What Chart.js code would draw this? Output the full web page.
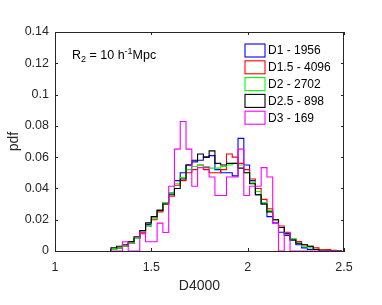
<!DOCTYPE html>
<html>
<head>
<meta charset="utf-8">
<script src="https://cdn.jsdelivr.net/npm/chart.js@4"></script>
<style>
html,body{margin:0;padding:0;background:#fff;}
#wrap{width:382px;height:305px;position:relative;}
</style>
</head>
<body>
<div id="wrap"><canvas id="c"></canvas></div>
<script>
// bin edges (D4000), width 0.03
const binEdges = [1.29,1.32,1.35,1.38,1.41,1.44,1.47,1.50,1.53,1.56,1.59,1.62,1.65,1.68,1.71,1.74,1.77,1.80,1.83,1.86,1.89,1.92,1.95,1.98,2.01,2.04,2.07,2.10,2.13,2.16,2.19,2.22,2.25,2.28,2.31,2.34,2.37,2.40,2.43,2.46,2.49];
const seriesLabels = ["D1 - 1956","D1.5 - 4096","D2 - 2702","D2.5 - 898","D3 - 169"];
const pdfD1  = [0,0.001,0.002,0.003,0.005,0.008,0.012,0.017,0.022,0.026,0.031,0.037,0.045,0.050,0.055,0.057,0.058,0.060,0.061,0.052,0.050,0.050,0.048,0.072,0.055,0.045,0.036,0.030,0.022,0.018,0.012,0.010,0.007,0.004,0.002,0.001,0.001,0,0,0];
const pdfD15 = [0.0005,0.001,0.002,0.003,0.005,0.008,0.011,0.016,0.020,0.025,0.030,0.035,0.042,0.045,0.050,0.052,0.055,0.052,0.050,0.050,0.052,0.062,0.060,0.056,0.052,0.046,0.040,0.033,0.027,0.020,0.016,0.012,0.008,0.006,0.004,0.003,0.002,0.001,0.001,0.0005];
const pdfD2  = [0,0.001,0.002,0.003,0.005,0.008,0.012,0.016,0.021,0.026,0.031,0.037,0.043,0.047,0.052,0.054,0.055,0.054,0.053,0.053,0.054,0.055,0.056,0.055,0.050,0.044,0.038,0.031,0.026,0.020,0.015,0.011,0.008,0.005,0.003,0.002,0.001,0.0005,0,0];
const pdfD25 = [0.001,0.002,0.003,0.004,0.006,0.009,0.013,0.018,0.022,0.026,0.030,0.036,0.040,0.046,0.055,0.058,0.062,0.060,0.064,0.056,0.055,0.056,0.056,0.053,0.050,0.043,0.036,0.030,0.025,0.020,0.015,0.011,0.007,0.005,0.004,0.003,0.001,0,0,0];
const pdfD3  = [0,0,0,0.0059,0,0,0.0118,0.0059,0.0059,0.0178,0.0118,0.0414,0.0651,0.0828,0.0651,0.0414,0.0533,0.0533,0.0473,0.0355,0.0355,0.0473,0.0473,0.0651,0.0355,0.0414,0.0414,0.0533,0.0473,0.0178,0,0.0118,0,0,0,0,0,0,0,0];
const colors = ["#0000ff","#ff0000","#00ff00","#000000","#ff00ff"];
const yTicks = [0,0.02,0.04,0.06,0.08,0.1,0.12,0.14];
const xTicks = [1,1.5,2,2.5];
const annotation = {base:"R", sub:"2", mid:" = 10 h", sup:"-1", tail:"Mpc"};

function stairs(vals){
  const pts = [{x:binEdges[0], y:0}];
  for (let i=0;i<vals.length;i++) pts.push({x:binEdges[i], y:vals[i]});
  pts.push({x:binEdges[binEdges.length-1], y:0});
  return pts;
}
const allSeries = [pdfD1,pdfD15,pdfD2,pdfD25,pdfD3];
const datasets = allSeries.map((v,i)=>({
  label: seriesLabels[i],
  data: stairs(v),
  borderColor: colors[i],
  backgroundColor: "#ffffff",
  borderWidth: 1.1,
  pointRadius: 0,
  stepped: 'after',
  fill: false,
  order: allSeries.length - i
}));

const FONT = "'Liberation Sans', Arial, Helvetica, sans-serif";
const AXC = "#262626";

const boxPlugin = {
  id:'boxPlugin',
  afterDraw(chart){
    const {ctx, chartArea:a, scales:{x,y}} = chart;
    ctx.save();
    ctx.strokeStyle = AXC; ctx.lineWidth = 1;
    ctx.beginPath();
    ctx.moveTo(a.left, a.top+0.5); ctx.lineTo(a.right, a.top+0.5);
    ctx.moveTo(a.right-0.5, a.top); ctx.lineTo(a.right-0.5, a.bottom);
    const tl = 3;
    xTicks.forEach(v=>{
      const px = Math.round(x.getPixelForValue(v))+0.5;
      ctx.moveTo(px, a.bottom); ctx.lineTo(px, a.bottom-tl);
      ctx.moveTo(px, a.top); ctx.lineTo(px, a.top+tl);
    });
    yTicks.forEach(v=>{
      const py = Math.round(y.getPixelForValue(v))+0.5;
      ctx.moveTo(a.left, py); ctx.lineTo(a.left+tl, py);
      ctx.moveTo(a.right, py); ctx.lineTo(a.right-tl, py);
    });
    ctx.stroke();
    ctx.fillStyle = "#000";
    ctx.textBaseline = "alphabetic";
    let tx = 72, ty = 58.5;
    ctx.font = "12.5px " + FONT;
    ctx.fillText(annotation.base, tx, ty); tx += ctx.measureText(annotation.base).width;
    ctx.font = "9px " + FONT;
    ctx.fillText(annotation.sub, tx, ty+3); tx += ctx.measureText(annotation.sub).width;
    ctx.font = "12.5px " + FONT;
    ctx.fillText(annotation.mid, tx, ty); tx += ctx.measureText(annotation.mid).width;
    ctx.font = "9px " + FONT;
    ctx.fillText(annotation.sup, tx, ty-5); tx += ctx.measureText(annotation.sup).width;
    ctx.font = "12.5px " + FONT;
    ctx.fillText(annotation.tail, tx, ty);
    ctx.font = "12px " + FONT;
    ctx.textBaseline = "middle";
    seriesLabels.forEach((lab,i)=>{
      const cy = 50.5 + i*16.8;
      ctx.fillStyle = "#fff";
      ctx.strokeStyle = colors[i];
      ctx.lineWidth = 1.1;
      ctx.fillRect(245, cy-6.5, 20, 13);
      ctx.strokeRect(245, cy-6.5, 20, 13);
      ctx.fillStyle = "#000";
      ctx.fillText(lab, 268, cy+0.5);
    });
    ctx.restore();
  }
};

new Chart(document.getElementById('c'), {
  type:'line',
  data:{datasets},
  options:{
    responsive:true,
    maintainAspectRatio:false,
    animation:false,
    layout:{padding:{left:0, top:32, right:38, bottom:0}},
    plugins:{legend:{display:false}, tooltip:{enabled:false}},
    scales:{
      x:{
        type:'linear', min:1, max:2.5,
        afterBuildTicks(s){ s.ticks = xTicks.map(v=>({value:v})); },
        afterFit(s){ s.height = 54; },
        grid:{display:false, drawTicks:false},
        border:{display:true, color:AXC, width:1},
        ticks:{color:AXC, font:{family:FONT, size:12.5}, padding:9, maxRotation:0,
               callback:(v)=>String(v)},
        title:{display:true, text:"D4000", color:AXC, font:{family:FONT, size:14}, padding:{top:0,bottom:10}}
      },
      y:{
        type:'linear', min:0, max:0.14,
        afterBuildTicks(s){ s.ticks = yTicks.map(v=>({value:v})); },
        afterFit(s){ s.width = 55; },
        grid:{display:false, drawTicks:false},
        border:{display:true, color:AXC, width:1},
        ticks:{color:AXC, font:{family:FONT, size:12.5}, padding:6,
               callback:(v)=>String(+v.toFixed(2))},
        title:{display:true, text:"pdf", color:AXC, font:{family:FONT, size:14}, padding:{top:6,bottom:0}}
      }
    }
  },
  plugins:[boxPlugin]
});
</script>
</body>
</html>
